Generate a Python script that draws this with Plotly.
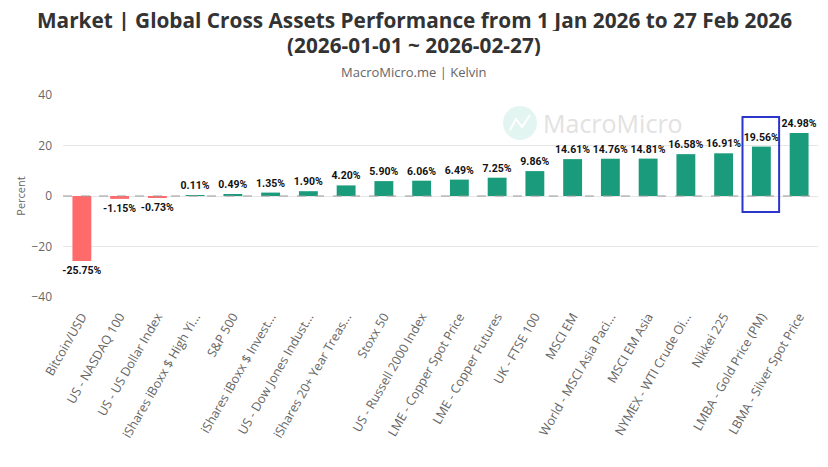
import plotly.graph_objects as go

categories = [
    "Bitcoin/USD", "US - NASDAQ 100", "US - US Dollar Index", "iShares iBoxx $ High Yi...",
    "S&P 500", "iShares iBoxx $ Invest...", "US - Dow Jones Indust...", "iShares 20+ Year Treas...",
    "Stoxx 50", "US - Russell 2000 Index", "LME - Copper Spot Price", "LME - Copper Futures",
    "UK - FTSE 100", "MSCI EM", "World - MSCI Asia Paci...", "MSCI EM Asia",
    "NYMEX - WTI Crude Oi...", "Nikkei 225", "LMBA - Gold Price (PM)", "LBMA - Silver Spot Price",
]
values = [-25.75, -1.15, -0.73, 0.11, 0.49, 1.35, 1.90, 4.20, 5.90, 6.06, 6.49, 7.25,
          9.86, 14.61, 14.76, 14.81, 16.58, 16.91, 19.56, 24.98]
highlight = "LMBA - Gold Price (PM)"

GREEN = "#1a9b7b"
RED = "#ff6b6b"
colors = [GREEN if v >= 0 else RED for v in values]
labels = [f"{v:.2f}%" for v in values]

# page body adds an 8px offset; figure is sized to fill the rest of the window
OFF = 8
W, H = 828 - OFF, 467 - OFF
ML, MR, MT, MB = 63 - OFF, 10, 95 - OFF, 170
PW, PH = W - ML - MR, H - MT - MB


def px(x):  # x in window pixels -> paper
    return (x - OFF - ML) / PW


def py(y):  # y in window pixels -> paper
    return (H - MB - (y - OFF)) / PH


fig = go.Figure()
fig.add_trace(go.Bar(
    x=categories, y=values, marker=dict(color=colors, line=dict(width=0)),
    text=labels, textposition="outside", cliponaxis=False, constraintext="none",
    textfont=dict(family="Roboto", size=10.5, color="#111111", weight="bold"),
    width=0.5,
))

hi = categories.index(highlight)
fig.add_shape(type="rect", xref="x", yref="y", x0=hi - 0.5, x1=hi + 0.47, y0=-6.3, y1=31.3,
              line=dict(color="#2b35c9", width=2), fillcolor="rgba(0,0,0,0)")
fig.add_shape(type="line", xref="paper", yref="y", x0=0, x1=1, y0=0, y1=0,
              line=dict(color="#999999", width=1, dash="dash"), layer="above")

# watermark
fig.add_shape(type="circle", xref="paper", yref="paper", x0=px(503), x1=px(537), y0=py(140), y1=py(106),
              fillcolor="#e3f5f1", line=dict(width=0), layer="below")
fig.add_shape(type="path", xref="paper", yref="paper",
              path=f"M {px(510)} {py(130)} L {px(516)} {py(119)} L {px(522)} {py(127)} L {px(530)} {py(115)}",
              line=dict(color="white", width=2), layer="below")
fig.add_annotation(xref="paper", yref="paper", x=px(541), y=py(123), xanchor="left", yanchor="middle",
                   text="MacroMicro", showarrow=False,
                   font=dict(family="Open Sans", size=25, color="#e2e2e2"))

# titles
cx = px(414)
fig.add_annotation(xref="paper", yref="paper", x=cx, xanchor="center", y=py(20), yanchor="middle",
                   showarrow=False, height=22, borderpad=0,
                   text="<b>Market | Global Cross Assets Performance from 1 Jan 2026 to 27 Feb 2026</b>",
                   font=dict(family="Open Sans", size=20.8, color="#333333"))
fig.add_annotation(xref="paper", yref="paper", x=cx, xanchor="center", y=py(45), yanchor="middle",
                   showarrow=False, height=22, borderpad=0,
                   text="<b>(2026-01-01 ~ 2026-02-27)</b>",
                   font=dict(family="Open Sans", size=20.8, color="#333333"))
fig.add_annotation(xref="paper", yref="paper", x=cx, xanchor="center", y=py(72), yanchor="middle",
                   showarrow=False, height=16, borderpad=0, text="MacroMicro.me | Kelvin",
                   font=dict(family="Open Sans", size=13, color="#666666"))

fig.update_layout(
    width=W, height=H,
    margin=dict(l=ML, r=MR, t=MT, b=MB),
    paper_bgcolor="white", plot_bgcolor="white",
    showlegend=False,
    xaxis=dict(tickangle=-60, tickfont=dict(family="Open Sans", size=12.5, color="#666666"),
               showgrid=False, showline=False, ticks="", automargin=False, ticklabelstandoff=9),
    yaxis=dict(range=[-40, 40], dtick=20, tickfont=dict(family="Open Sans", size=12, color="#666666"),
               gridcolor="#e6e6e6", zeroline=False, showline=False, automargin=False,
               ticklabelstandoff=10,
               title=dict(text="Percent", font=dict(family="Open Sans", size=11, color="#666666"), standoff=3)),
    bargap=0.5,
)

fig.write_html("out.html")
